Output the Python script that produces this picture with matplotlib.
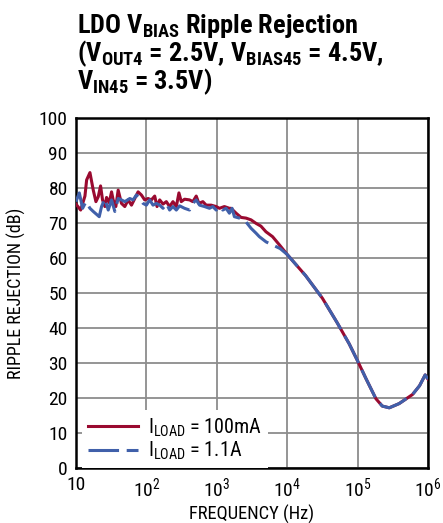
import numpy as np
import matplotlib
matplotlib.use("Agg")
import matplotlib.pyplot as plt

fams = ['Roboto Condensed', 'Archivo Narrow', 'Barlow Condensed', 'Liberation Sans', 'DejaVu Sans']
plt.rcParams['font.family'] = fams
plt.rcParams['mathtext.fontset'] = 'custom'
plt.rcParams['mathtext.rm'] = fams[0]
plt.rcParams['mathtext.default'] = 'regular'

# log10(frequency) and ripple rejection in dB
red_logf = [1.000, 1.066, 1.127, 1.151, 1.198, 1.245, 1.283, 1.316, 1.349, 1.377,
            1.410, 1.434, 1.472, 1.505, 1.528, 1.566, 1.599, 1.646, 1.693, 1.741,
            1.788, 1.835, 1.882, 1.929, 1.976, 2.024, 2.071, 2.118, 2.151, 2.189,
            2.236, 2.283, 2.330, 2.377, 2.425, 2.462, 2.495, 2.542, 2.613, 2.660,
            2.708, 2.745, 2.802, 2.849, 2.920, 2.991, 3.038, 3.108, 3.179, 3.203,
            3.274, 3.344, 3.415, 3.486, 3.557, 3.627, 3.698, 3.792, 3.900, 4.000,
            4.260, 4.500, 4.710, 4.880, 5.000, 5.120, 5.260, 5.350, 5.450, 5.590,
            5.780, 5.880, 5.960, 6.000]
red_db = [75.4, 73.7, 77.7, 82.3, 84.4, 79.4, 76.1, 77.5, 80.6, 76.6,
          74.7, 77.3, 75.8, 78.9, 76.6, 74.7, 79.4, 75.6, 74.7, 76.6,
          75.1, 77.0, 78.9, 78.0, 76.6, 77.0, 76.6, 77.7, 74.7, 76.6,
          75.4, 76.1, 74.7, 76.1, 74.7, 78.6, 76.1, 76.8, 76.6, 76.1,
          77.7, 75.6, 76.1, 75.1, 75.1, 74.7, 74.2, 74.7, 74.2, 74.2,
          72.8, 71.6, 71.4, 70.9, 69.9, 69.1, 67.5, 66.1, 63.5, 61.0,
          55.0, 48.5, 41.5, 35.5, 30.6, 25.5, 19.8, 17.7, 17.2, 18.4,
          21.0, 23.5, 26.6, 25.4]

blue_logf = [1.000, 1.047, 1.094, 1.142, 1.198, 1.245, 1.330, 1.363, 1.410, 1.458,
             1.505, 1.552, 1.599, 1.646, 1.693, 1.764, 1.811, 1.858, 1.906, 1.953,
             2.000, 2.047, 2.094, 2.142, 2.189, 2.236, 2.283, 2.330, 2.377, 2.425,
             2.472, 2.542, 2.613, 2.660, 2.708, 2.755, 2.825, 2.896, 2.943, 2.991,
             3.038, 3.085, 3.132, 3.179, 3.217, 3.250, 3.321, 3.392, 3.486, 3.557,
             3.604, 3.700, 3.900, 4.000, 4.260, 4.500, 4.710, 4.880, 5.000, 5.120,
             5.260, 5.350, 5.450, 5.590, 5.780, 5.880, 5.960, 6.000]
blue_db = [76.1, 78.6, 74.2, 76.1, 74.2, 73.3, 71.8, 74.7, 77.0, 73.7,
           76.6, 73.3, 77.0, 76.6, 76.1, 77.0, 76.6, 78.0, 77.0, 75.6,
           75.1, 76.6, 75.1, 75.6, 75.1, 74.2, 75.6, 73.7, 74.7, 73.7,
           74.9, 74.2, 73.7, 75.6, 76.6, 75.1, 74.7, 74.2, 74.7, 73.7,
           74.7, 73.7, 74.2, 72.8, 74.2, 71.8, 71.4, 70.9, 68.5, 67.1,
           66.1, 64.6, 62.7, 61.0, 55.0, 48.5, 41.5, 35.5, 30.6, 25.5,
           19.8, 17.7, 17.2, 18.4, 21.0, 23.5, 26.6, 25.4]

x_ticks = [1e1, 1e2, 1e3, 1e4, 1e5, 1e6]
x_labels = ['10', '10$^2$', '10$^3$', '10$^4$', '10$^5$', '10$^6$']
y_ticks = list(range(0, 101, 10))

red = '#9a0a30'
blue = '#4060aa'

fig = plt.figure(figsize=(4.43, 5.23), dpi=100)
ax = fig.add_axes([76 / 443, 55 / 523, 352 / 443, 350 / 523])

ax.plot(10 ** np.array(red_logf), red_db, color=red, lw=2.2,
        label='I$_{LOAD}$ = 100mA', solid_joinstyle='round', zorder=3)
ax.plot(10 ** np.array(blue_logf), blue_db, color=blue, lw=2.2,
        dashes=(10, 2.5), label='I$_{LOAD}$ = 1.1A', zorder=4)

ax.set_xscale('log')
ax.set_xlim(10, 1e6)
ax.set_ylim(0, 100)
ax.set_xticks(x_ticks)
ax.set_xticklabels(x_labels)
ax.set_yticks(y_ticks)
ax.xaxis.set_minor_locator(matplotlib.ticker.NullLocator())
ax.tick_params(length=0, labelsize=14, pad=6)
ax.grid(True, color='#8c8c8c', lw=1.3)
ax.set_axisbelow(True)
for s in ax.spines.values():
    s.set_linewidth(1.8)
    s.set_color('black')

ax.set_xlabel('FREQUENCY (Hz)', fontsize=13.3, labelpad=3)
ax.set_ylabel('RIPPLE REJECTION (dB)', fontsize=13, labelpad=9)

leg = ax.legend(loc='lower left', bbox_to_anchor=(0.018, 0.0), frameon=True,
                fontsize=14.5, handlelength=2.45, handletextpad=0.5,
                borderpad=0.3, labelspacing=0.05, fancybox=False,
                borderaxespad=0)
leg.get_frame().set_edgecolor('none')
leg.get_frame().set_facecolor('white')
leg.get_frame().set_alpha(1)

title = ('LDO V$_{BIAS}$ Ripple Rejection\n'
         '(V$_{OUT4}$ = 2.5V, V$_{BIAS45}$ = 4.5V,\n'
         'V$_{IN45}$ = 3.5V)')
fig.text(77 / 443, 1 - 12 / 523, title, fontsize=19, fontweight='bold',
         va='top', ha='left', linespacing=0.92)

fig.savefig('out.png', dpi=100)
